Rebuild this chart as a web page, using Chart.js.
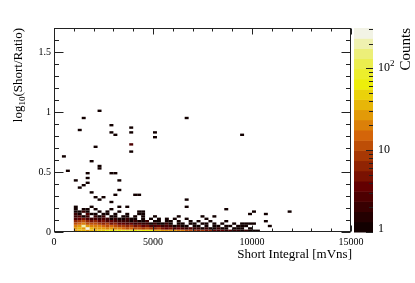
<!doctype html>
<html lang="en">

<head>
    <meta charset="utf-8">
    <script src="https://cdn.jsdelivr.net/npm/chart.js"></script>
    <style>
        body { margin: 0; background: #fff; }
        canvas { display: block; }
    </style>
</head>

<body>
    <canvas id="myChart" width="415" height="283"></canvas>
    <script>
        // histogram binning
        const binW = 200;      // mVns per x bin
        const binH = 0.02;     // log10 units per y bin
        const denseX0 = 1000;  // x of the first column of the dense block

        // dense block, one row per y bin (0.00, 0.02, ...), 48 columns of 200 mVns starting at 1000
        const countsY00 = [25, 35, 40, 30, 40, 35, 45, 50, 60, 70, 80, 70, 80, 90, 80, 70, 80, 70, 60, 60, 40, 35, 30, 30, 25, 30, 20, 20, 12, 10, 8, 6, 8, 5, 6, 4, 3, 4, 2, 3, 2, 2, 1, 2, 1, 1, 1, 0];
        const countsY02 = [30, 40, 25, 300, 35, 30, 25, 30, 20, 25, 20, 18, 15, 12, 15, 10, 12, 8, 10, 8, 6, 8, 5, 4, 5, 3, 4, 3, 2, 3, 2, 2, 1, 2, 1, 1, 2, 1, 1, 0, 1, 1, 1, 0, 1, 0, 0, 0];
        const countsY04 = [20, 30, 200, 25, 20, 18, 20, 15, 12, 15, 10, 8, 8, 6, 8, 5, 6, 4, 5, 3, 3, 4, 2, 3, 2, 1, 2, 1, 1, 0, 1, 1, 0, 1, 0, 1, 1, 0, 1, 1, 0, 1, 1, 1, 0, 0, 0, 0];
        const countsY06 = [12, 15, 18, 12, 10, 12, 8, 6, 8, 5, 6, 4, 4, 3, 4, 2, 3, 2, 2, 1, 2, 1, 1, 2, 1, 0, 1, 1, 0, 1, 1, 0, 1, 1, 0, 1, 0, 1, 0, 0, 1, 0, 1, 1, 1, 1, 0, 0];
        const countsY08 = [6, 8, 10, 6, 5, 6, 4, 5, 3, 4, 3, 2, 2, 2, 1, 2, 1, 1, 2, 0, 1, 1, 0, 1, 1, 0, 1, 0, 0, 1, 0, 1, 0, 0, 1, 0, 0, 0, 1, 0, 0, 0, 0, 0, 0, 0, 0, 0];
        const countsY10 = [3, 4, 5, 3, 2, 3, 2, 3, 2, 1, 2, 1, 1, 2, 1, 1, 0, 1, 0, 1, 0, 1, 0, 1, 0, 1, 0, 0, 1, 0, 0, 0, 0, 1, 0, 0, 0, 0, 0, 0, 0, 0, 0, 0, 0, 0, 0, 0];
        const countsY12 = [2, 3, 1, 2, 0, 2, 1, 2, 0, 1, 1, 0, 1, 1, 0, 1, 0, 1, 0, 0, 1, 0, 0, 0, 0, 0, 1, 0, 0, 0, 0, 0, 1, 0, 0, 1, 0, 0, 0, 0, 0, 0, 0, 0, 0, 0, 0, 0];
        const countsY14 = [2, 1, 0, 3, 1, 1, 0, 1, 1, 0, 1, 0, 0, 1, 0, 0, 1, 1, 0, 0, 0, 0, 0, 0, 0, 0, 0, 0, 0, 0, 0, 0, 0, 0, 0, 0, 0, 0, 0, 0, 0, 0, 0, 0, 0, 0, 0, 0];
        const countsY16 = [1, 1, 2, 1, 0, 0, 1, 0, 1, 0, 0, 1, 0, 0, 0, 0, 1, 1, 0, 0, 0, 0, 0, 0, 0, 0, 0, 0, 0, 0, 0, 0, 0, 0, 0, 0, 0, 0, 0, 0, 0, 0, 0, 0, 0, 0, 0, 0];
        const countsY18 = [1, 0, 1, 1, 0, 1, 0, 0, 0, 1, 0, 0, 0, 0, 0, 0, 0, 0, 0, 0, 0, 0, 0, 0, 0, 0, 0, 0, 0, 0, 0, 0, 0, 0, 0, 0, 0, 0, 0, 0, 0, 0, 0, 0, 0, 0, 0, 0];
        const countsY20 = [1, 0, 0, 0, 1, 0, 0, 0, 0, 0, 0, 1, 0, 1, 0, 0, 0, 0, 0, 0, 0, 0, 0, 0, 0, 0, 0, 0, 0, 0, 0, 0, 0, 0, 0, 0, 0, 0, 0, 0, 0, 0, 0, 0, 0, 0, 0, 0];
        const denseRows = [countsY00, countsY02, countsY04, countsY06, countsY08, countsY10, countsY12, countsY14, countsY16, countsY18, countsY20];

        // lone bins away from the dense block (lower bin edges)
        const loneX = [400, 600, 1000, 1200, 1400, 1600, 1600, 1600, 1800, 1800, 2000, 2200, 2200, 2200, 1400, 1200, 2000, 2200, 2400, 2800, 3000, 3200, 3200, 2800, 3000, 2800, 2800, 3000, 3800, 3800, 3800, 3800, 4000, 4200, 5000, 5000, 6600, 9400, 6600, 6600, 8600, 10000, 9800, 10600, 10600, 10800, 11800];
        const loneY = [0.62, 0.50, 0.42, 0.36, 0.38, 0.40, 0.44, 0.48, 0.58, 0.32, 0.70, 1.00, 0.54, 0.52, 0.94, 0.84, 0.28, 0.26, 0.28, 0.24, 0.30, 0.34, 0.42, 0.48, 0.48, 0.88, 0.82, 0.80, 0.86, 0.82, 0.72, 0.66, 0.30, 0.30, 0.82, 0.78, 0.94, 0.80, 0.26, 0.20, 0.18, 0.16, 0.14, 0.14, 0.08, 0.04, 0.16];
        const loneN = [1, 1, 1, 1, 1, 1, 1, 1, 1, 1, 1, 1, 1, 1, 1, 1, 1, 1, 1, 1, 1, 1, 1, 1, 1, 1, 1, 1, 1, 1, 3, 1, 1, 1, 1, 1, 1, 1, 1, 1, 1, 1, 1, 1, 1, 1, 1];

        const zMax = 310;       // top of the colour scale
        const nLevels = 20;     // colour bands

        const cells = [];
        denseRows.forEach((row, r) => {
            row.forEach((v, i) => {
                if (v > 0) cells.push({ x: denseX0 + i * binW + binW / 2, y: r * binH + binH / 2, v: v });
            });
        });
        loneX.forEach((x, k) => {
            cells.push({ x: x + binW / 2, y: loneY[k] + binH / 2, v: loneN[k] });
        });

        // ROOT dark body radiator palette
        function palette(f) {
            const r = [0, 45, 99, 156, 212, 230, 237, 234, 242];
            const g = [0, 0, 0, 45, 101, 168, 238, 238, 243];
            const b = [0, 1, 1, 3, 9, 8, 11, 95, 230];
            const p = Math.min(Math.max(f, 0), 1) * 8;
            const i = Math.min(Math.floor(p), 7);
            const t = p - i;
            const c = a => Math.round(a[i] + (a[i + 1] - a[i]) * t);
            return 'rgb(' + c(r) + ',' + c(g) + ',' + c(b) + ')';
        }
        function levelColor(v) {
            let k = Math.floor(Math.log10(v) / Math.log10(zMax) * nLevels);
            k = Math.min(Math.max(k, 0), nLevels - 1);
            return palette((k + 0.99) / nLevels);
        }

        const serif = '"Liberation Serif", "DejaVu Serif", serif';
        Chart.defaults.font.family = serif;

        const cellPlugin = {
            id: 'cells',
            beforeDatasetsDraw(chart) {
                const { ctx, chartArea: a, scales: { x, y } } = chart;
                ctx.save();
                ctx.beginPath();
                ctx.rect(a.left, a.top, a.width, a.height);
                ctx.clip();
                chart.data.datasets[0].data.forEach(c => {
                    const x0 = x.getPixelForValue(c.x - binW / 2);
                    const x1 = x.getPixelForValue(c.x + binW / 2);
                    const y0 = y.getPixelForValue(c.y + binH / 2);
                    const y1 = y.getPixelForValue(c.y - binH / 2);
                    ctx.fillStyle = levelColor(c.v);
                    ctx.fillRect(x0, y0, x1 - x0, y1 - y0);
                });
                ctx.restore();
            }
        };

        const framePlugin = {
            id: 'frame',
            afterDraw(chart) {
                const { ctx, chartArea: a, scales: { x, y, z } } = chart;
                ctx.save();
                ctx.strokeStyle = '#222';
                ctx.lineWidth = 1;
                const L = Math.round(a.left) + 0.5, R = Math.round(a.right) - 0.5;
                const T = Math.round(a.top) + 0.5, B = Math.round(a.bottom) - 0.5;
                ctx.strokeRect(L, T, R - L, B - T);

                // ticks inside the frame
                ctx.beginPath();
                for (let v = 0; v <= 15000; v += 1000) {
                    const px = Math.round(x.getPixelForValue(v)) + 0.5;
                    const len = v % 5000 === 0 ? 6 : 3;
                    ctx.moveTo(px, B); ctx.lineTo(px, B - len);
                    ctx.moveTo(px, T); ctx.lineTo(px, T + len);
                }
                for (let k = 0; k <= 17; k++) {
                    const py = Math.round(y.getPixelForValue(k / 10)) + 0.5;
                    const len = k % 5 === 0 ? 9 : 4.5;
                    ctx.moveTo(L, py); ctx.lineTo(L + len, py);
                    ctx.moveTo(R, py); ctx.lineTo(R - len, py);
                }
                ctx.stroke();

                // colour bar
                const cbL = a.right + 3, cbR = a.right + 22;
                const lmax = Math.log10(zMax);
                for (let k = 0; k < nLevels; k++) {
                    const ya = z.getPixelForValue(Math.pow(10, k * lmax / nLevels));
                    const yb = z.getPixelForValue(Math.pow(10, (k + 1) * lmax / nLevels));
                    ctx.fillStyle = palette((k + 0.99) / nLevels);
                    ctx.fillRect(cbL, yb, cbR - cbL, ya - yb + 0.5);
                }
                ctx.beginPath();
                for (let d = 1; d <= 100; d *= 10) {
                    for (let m = 1; m <= 9; m++) {
                        const v = d * m;
                        if (v > zMax) break;
                        const py = Math.round(z.getPixelForValue(v)) + 0.5;
                        const len = m === 1 ? 7 : 4;
                        ctx.moveTo(cbR, py); ctx.lineTo(cbR - len, py);
                    }
                }
                ctx.stroke();

                ctx.fillStyle = '#000';
                ctx.font = '12px ' + serif;
                ctx.textAlign = 'left';
                ctx.textBaseline = 'middle';
                const lx = cbR + 5;
                ctx.fillText('1', lx, z.getPixelForValue(1) - 3);
                ctx.fillText('10', lx, z.getPixelForValue(10));
                ctx.fillText('10', lx, z.getPixelForValue(100));
                const w10 = ctx.measureText('10').width;
                ctx.font = '9px ' + serif;
                ctx.fillText('2', lx + w10, z.getPixelForValue(100) - 5);

                // axis titles
                ctx.textBaseline = 'alphabetic';
                ctx.font = '13px ' + serif;
                ctx.textAlign = 'right';
                ctx.fillText('Short Integral [mVns]', a.right + 1, 258);

                // y title, rotated, ending at the top of the frame
                ctx.save();
                ctx.font = '13px ' + serif;
                const wLog = ctx.measureText('log').width;
                const wRest = ctx.measureText('(Short/Ratio)').width;
                ctx.font = '9px ' + serif;
                const wSub = ctx.measureText('10').width;
                const total = wLog + wSub + wRest;
                ctx.translate(22, a.top + total);
                ctx.rotate(-Math.PI / 2);
                ctx.textAlign = 'left';
                ctx.font = '13px ' + serif;
                ctx.fillText('log', 0, 0);
                ctx.font = '9px ' + serif;
                ctx.fillText('10', wLog, 3);
                ctx.font = '13px ' + serif;
                ctx.fillText('(Short/Ratio)', wLog + wSub, 0);
                ctx.restore();

                // z title
                ctx.save();
                ctx.font = '15px ' + serif;
                ctx.translate(410, a.top);
                ctx.rotate(-Math.PI / 2);
                ctx.textAlign = 'right';
                ctx.fillText('Counts', 0, 0);
                ctx.restore();

                ctx.restore();
            }
        };

        const config = {
            type: 'scatter',
            data: {
                datasets: [{
                    data: cells,
                    pointRadius: 0,
                    pointHoverRadius: 0,
                    showLine: false
                }]
            },
            options: {
                responsive: false,
                animation: false,
                layout: { padding: { top: 28, right: 64, left: 0, bottom: 0 } },
                plugins: { legend: { display: false }, tooltip: { enabled: false } },
                scales: {
                    x: {
                        type: 'linear', min: 0, max: 15000,
                        grid: { display: false, drawTicks: false },
                        border: { display: false },
                        ticks: {
                            stepSize: 5000, padding: 4, maxRotation: 0, color: '#000',
                            font: { size: 10 }, callback: v => String(v)
                        },
                        afterFit: s => { s.height = 51; }
                    },
                    y: {
                        type: 'linear', min: 0, max: 1.7,
                        grid: { display: false, drawTicks: false },
                        border: { display: false },
                        ticks: {
                            stepSize: 0.5, includeBounds: false, padding: 3, color: '#000',
                            font: { size: 10 }, callback: v => String(v)
                        },
                        afterFit: s => { s.width = 54; }
                    },
                    z: { type: 'logarithmic', position: 'right', min: 1, max: zMax, display: false }
                }
            },
            plugins: [cellPlugin, framePlugin]
        };

        const myChart = new Chart(document.getElementById('myChart'), config);
    </script>
</body>

</html>
